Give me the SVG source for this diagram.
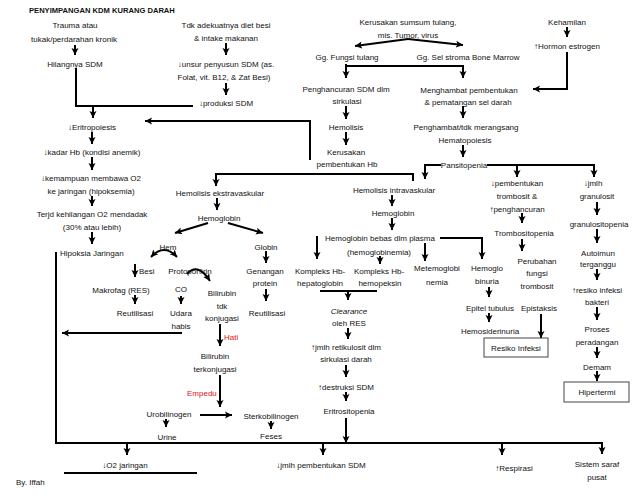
<svg xmlns="http://www.w3.org/2000/svg" width="640" height="496" viewBox="0 0 640 496">
<defs>
<marker id="ah" markerWidth="8" markerHeight="8" refX="7" refY="4" orient="auto-start-reverse" markerUnits="userSpaceOnUse">
<path d="M0,0.5 L7,4 L0,7.5 L1.5,4 z" fill="#000"/>
</marker>
<style>
text{font-family:"Liberation Sans",Arial,sans-serif;font-size:8px;fill:#111;text-anchor:middle}
.l{text-anchor:start}
.ttl{font-weight:bold;font-size:7.6px}
.red{fill:#e01010}
.it{font-style:italic}
.c{stroke:#000;stroke-width:2;fill:none}
.a{stroke:#000;stroke-width:2;fill:none;marker-end:url(#ah)}
.box{fill:#fff;stroke:#444;stroke-width:1}
</style>
</defs>
<rect width="640" height="496" fill="#fff"/>
<g id="connectors">
<line class="a" x1="75" y1="45" x2="75" y2="55"/>
<polyline class="c" points="76,68 76,106 193,106"/>
<line class="a" x1="93" y1="106" x2="93" y2="118"/>
<line class="a" x1="226" y1="43" x2="226" y2="55"/>
<line class="a" x1="226" y1="83" x2="226" y2="95"/>
<line class="a" x1="408" y1="39" x2="355" y2="46"/>
<line class="a" x1="408" y1="39" x2="463" y2="45"/>
<line class="c" x1="346" y1="66" x2="463" y2="66"/>
<line class="a" x1="346" y1="64" x2="346" y2="78"/>
<line class="a" x1="463" y1="65" x2="463" y2="78"/>
<line class="a" x1="346" y1="106" x2="346" y2="119"/>
<line class="a" x1="346" y1="132" x2="346" y2="145"/>
<polyline class="a" points="310,160 310,121 145,121"/>
<polyline class="c" points="216,174 413,174 413,181"/>
<line class="a" x1="216" y1="173" x2="216" y2="186"/>
<line class="a" x1="567" y1="27" x2="567" y2="37"/>
<polyline class="a" points="567,52 567,89 533,89"/>
<line class="a" x1="463" y1="106" x2="463" y2="118"/>
<line class="a" x1="463" y1="145" x2="463" y2="157"/>
<polyline class="a" points="441,165 425,165 425,179"/>
<polyline class="a" points="487,165 594,165 594,177"/>
<line class="a" x1="517" y1="165" x2="517" y2="177"/>
<line class="a" x1="92" y1="132" x2="92" y2="144"/>
<line class="a" x1="92" y1="157" x2="92" y2="170"/>
<line class="a" x1="92" y1="196" x2="92" y2="206"/>
<line class="a" x1="92" y1="232" x2="92" y2="244"/>
<polyline class="a" points="56,252 56,443 602,443 602,454"/>
<line class="a" x1="127" y1="443" x2="127" y2="455"/>
<line class="a" x1="323" y1="443" x2="323" y2="455"/>
<line class="a" x1="502" y1="443" x2="502" y2="455"/>
<line class="a" x1="217" y1="198" x2="217" y2="210"/>
<line class="a" x1="208" y1="223" x2="175" y2="233"/>
<line class="a" x1="228" y1="223" x2="263" y2="233"/>
<path class="c" d="M151,257 Q164,243 177,257" marker-start="url(#ah)" marker-end="url(#ah)"/>
<line class="a" x1="135" y1="264" x2="135" y2="277"/>
<line class="a" x1="135" y1="295" x2="135" y2="304"/>
<path class="a" d="M187,274 Q198,262 210,281"/>
<line class="a" x1="181" y1="296" x2="181" y2="304"/>
<line class="a" x1="182" y1="333" x2="62" y2="333"/>
<line class="a" x1="220" y1="324" x2="220" y2="346"/>
<line class="a" x1="220" y1="375" x2="220" y2="407"/>
<line class="a" x1="200" y1="415" x2="232" y2="415"/>
<line class="a" x1="166" y1="419" x2="166" y2="427"/>
<line class="a" x1="271" y1="421" x2="271" y2="429"/>
<line class="a" x1="266" y1="251" x2="266" y2="263"/>
<line class="a" x1="266" y1="289" x2="266" y2="301"/>
<line class="a" x1="392" y1="195" x2="392" y2="206"/>
<line class="a" x1="392" y1="218" x2="392" y2="230"/>
<line class="a" x1="317" y1="236" x2="317" y2="259"/>
<line class="a" x1="380" y1="256" x2="380" y2="264"/>
<polyline class="a" points="440,238 482,238 482,259"/>
<line class="a" x1="425" y1="243" x2="425" y2="261"/>
<line class="c" x1="320" y1="291" x2="377" y2="291"/>
<line class="a" x1="348" y1="291" x2="348" y2="300"/>
<line class="a" x1="348" y1="328" x2="348" y2="339"/>
<line class="a" x1="346" y1="365" x2="346" y2="377"/>
<line class="a" x1="346" y1="392" x2="346" y2="401"/>
<line class="a" x1="346" y1="418" x2="346" y2="443"/>
<line class="a" x1="489" y1="287" x2="489" y2="297"/>
<line class="a" x1="489" y1="313" x2="489" y2="322"/>
<line class="a" x1="522" y1="213" x2="522" y2="223"/>
<line class="a" x1="522" y1="239" x2="522" y2="251"/>
<line class="a" x1="541" y1="314" x2="541" y2="338"/>
<line class="a" x1="597" y1="202" x2="597" y2="215"/>
<line class="a" x1="597" y1="229" x2="597" y2="243"/>
<line class="a" x1="597" y1="269" x2="597" y2="280"/>
<line class="a" x1="597" y1="307" x2="597" y2="320"/>
<line class="a" x1="597" y1="347" x2="597" y2="358"/>
<line class="a" x1="597" y1="371" x2="597" y2="381"/>
</g>
<g id="n-title"><text class="l ttl" x="29" y="13">PENYIMPANGAN KDM KURANG DARAH</text></g>
<g id="n-trauma"><text x="75" y="28">Trauma atau</text><text x="74" y="42">tukak/perdarahan kronik</text></g>
<g id="n-hilang"><text x="75" y="67">Hilangnya SDM</text></g>
<g id="n-tdk"><text x="226" y="28">Tdk adekuatnya diet besi</text><text x="226" y="41">&amp; intake makanan</text></g>
<g id="n-unsur"><text x="226" y="67">↓unsur penyusun SDM (as.</text><text x="224" y="80">Folat, vit. B12, &amp; Zat Besi)</text></g>
<g id="n-prod"><text x="226" y="106">↓produksi SDM</text></g>
<g id="n-kerusakan"><text x="408" y="25">Kerusakan sumsum tulang,</text><text x="408" y="38">mis. Tumor, virus</text></g>
<g id="n-gg1"><text x="347" y="60">Gg. Fungsi tulang</text></g>
<g id="n-gg2"><text x="468" y="60">Gg. Sel stroma Bone Marrow</text></g>
<g id="n-penghancuran"><text x="346" y="92">Penghancuran SDM dlm</text><text x="347" y="104">sirkulasi</text></g>
<g id="n-hemolisis"><text x="346" y="130">Hemolisis</text></g>
<g id="n-kerusakanhb"><text x="346" y="155">Kerusakan</text><text x="347" y="167">pembentukan Hb</text></g>
<g id="n-kehamilan"><text x="567" y="25">Kehamilan</text></g>
<g id="n-hormon"><text x="567" y="49">↑Hormon estrogen</text></g>
<g id="n-menghambat"><text x="469" y="93">Menghambat pembentukan</text><text x="468" y="105">&amp; pematangan sel darah</text></g>
<g id="n-penghambat"><text x="466" y="130">Penghambat/tdk merangsang</text><text x="465" y="143">Hematopoiesis</text></g>
<g id="n-pansitopenia"><text x="464" y="168">Pansitopenia</text></g>
<g id="n-eritropoiesis"><text x="92" y="130">↓Eritropoiesis</text></g>
<g id="n-kadar"><text x="92" y="155">↓kadar Hb (kondisi anemik)</text></g>
<g id="n-kemampuan"><text x="91" y="181">↓kemampuan membawa O2</text><text x="91" y="194">ke jaringan (hipoksemia)</text></g>
<g id="n-terjd"><text x="92" y="217">Terjd kehilangan O2 mendadak</text><text x="92" y="230">(30% atau lebih)</text></g>
<g id="n-hipoksia"><text class="l" x="60" y="256">Hipoksia Jaringan</text></g>
<g id="n-ekstra"><text x="220" y="196">Hemolisis ekstravaskular</text></g>
<g id="n-hemoglobin1"><text x="219" y="221">Hemoglobin</text></g>
<g id="n-hem"><text x="168" y="250">Hem</text></g>
<g id="n-globin"><text x="266" y="250">Globin</text></g>
<g id="n-besi"><text class="l" x="139" y="274">Besi</text></g>
<g id="n-proto"><text x="190" y="274">Protoporfirin</text></g>
<g id="n-makrofag"><text x="121" y="293">Makrofag (RES)</text></g>
<g id="n-reut1"><text x="135" y="316">Reutilisasi</text></g>
<g id="n-co"><text x="181" y="292">CO</text></g>
<g id="n-udara"><text x="181" y="316">Udara</text><text x="181" y="329">habis</text></g>
<g id="n-bili1"><text x="222" y="296">Bilirubin</text><text x="222" y="309">tdk</text><text x="222" y="321">konjugasi</text></g>
<g id="n-hati"><text class="l red" x="224" y="340">Hati</text></g>
<g id="n-bili2"><text x="215" y="359">Bilirubin</text><text x="215" y="372">terkonjugasi</text></g>
<g id="n-empedu"><text class="l red" x="187" y="396">Empedu</text></g>
<g id="n-urobilinogen"><text x="169" y="417">Urobilinogen</text></g>
<g id="n-urine"><text x="167" y="440">Urine</text></g>
<g id="n-sterko"><text x="271" y="419">Sterkobilinogen</text></g>
<g id="n-feses"><text x="271" y="439">Feses</text></g>
<g id="n-genangan"><text x="265" y="274">Genangan</text><text x="265" y="286">protein</text></g>
<g id="n-reut2"><text x="267" y="316">Reutilisasi</text></g>
<g id="n-intra"><text x="394" y="193">Hemolisis intravaskular</text></g>
<g id="n-hemoglobin2"><text x="393" y="216">Hemoglobin</text></g>
<g id="n-bebas"><text x="380" y="241">Hemoglobin bebas dlm plasma</text><text x="379" y="255">(hemoglobinemia)</text></g>
<g id="n-komp1"><text x="320" y="274">Kompleks Hb-</text><text x="320" y="286">hepatoglobin</text></g>
<g id="n-komp2"><text x="379" y="274">Kompleks Hb-</text><text x="380" y="286">hemopeksin</text></g>
<g id="n-clearance"><text class="it" x="349" y="314">Clearance</text><text x="349" y="326">oleh RES</text></g>
<g id="n-retikulosit"><text x="346" y="350">↑jmlh retikulosit dlm</text><text x="346" y="362">sirkulasi darah</text></g>
<g id="n-destruksi"><text x="346" y="390">↑destruksi SDM</text></g>
<g id="n-eritrositopenia"><text x="349" y="414">Eritrositopenia</text></g>
<g id="n-metemo"><text x="437" y="271">Metemoglobi</text><text x="437" y="285">nemia</text></g>
<g id="n-hemoglo"><text x="487" y="271">Hemoglo</text><text x="487" y="284">binuria</text></g>
<g id="n-epitel"><text x="490" y="311">Epitel tubulus</text></g>
<g id="n-hemosiderinuria"><text x="490" y="334">Hemosiderinuria</text></g>
<g id="n-pembentukan"><text x="517" y="186">↓pembentukan</text><text x="517" y="199">trombosit &amp;</text><text x="517" y="212">↑penghancuran</text></g>
<g id="n-trombositopenia"><text x="524" y="236">Trombositopenia</text></g>
<g id="n-perubahan"><text x="537" y="264">Perubahan</text><text x="537" y="276">fungsi</text><text x="537" y="289">trombosit</text></g>
<g id="n-epistaksis"><text x="539" y="311">Epistaksis</text></g>
<g id="n-resiko"><rect class="box" x="484" y="338" width="64" height="19"/><text x="516" y="351">Resiko Infeksi</text></g>
<g id="n-jmlh"><text x="593" y="186">↓jmlh</text><text x="597" y="199">granulosit</text></g>
<g id="n-granulositopenia"><text x="599" y="227">granulositopenia</text></g>
<g id="n-autoimun"><text x="598" y="256">Autoimun</text><text x="598" y="267">terganggu</text></g>
<g id="n-resikoinf"><text x="597" y="293">↑resiko infeksi</text><text x="597" y="305">bakteri</text></g>
<g id="n-proses"><text x="597" y="332">Proses</text><text x="597" y="345">peradangan</text></g>
<g id="n-demam"><text x="597" y="370">Demam</text></g>
<g id="n-hipertermi"><rect class="box" x="564" y="382" width="65" height="20"/><text x="597" y="395">Hipertermi</text></g>
<g id="n-o2"><text x="125" y="468">↓O2 jaringan</text><line x1="64" y1="473" x2="197" y2="473" stroke="#000" stroke-width="2"/></g>
<g id="n-jmlhsdm"><text x="321" y="468">↓jmlh pembentukan SDM</text></g>
<g id="n-respirasi"><text x="514" y="471">↑Respirasi</text></g>
<g id="n-saraf"><text x="597" y="467">Sistem saraf</text><text x="597" y="480">pusat</text></g>
<g id="n-by"><text class="l" x="16" y="485">By. Iffah</text></g>
</svg>
